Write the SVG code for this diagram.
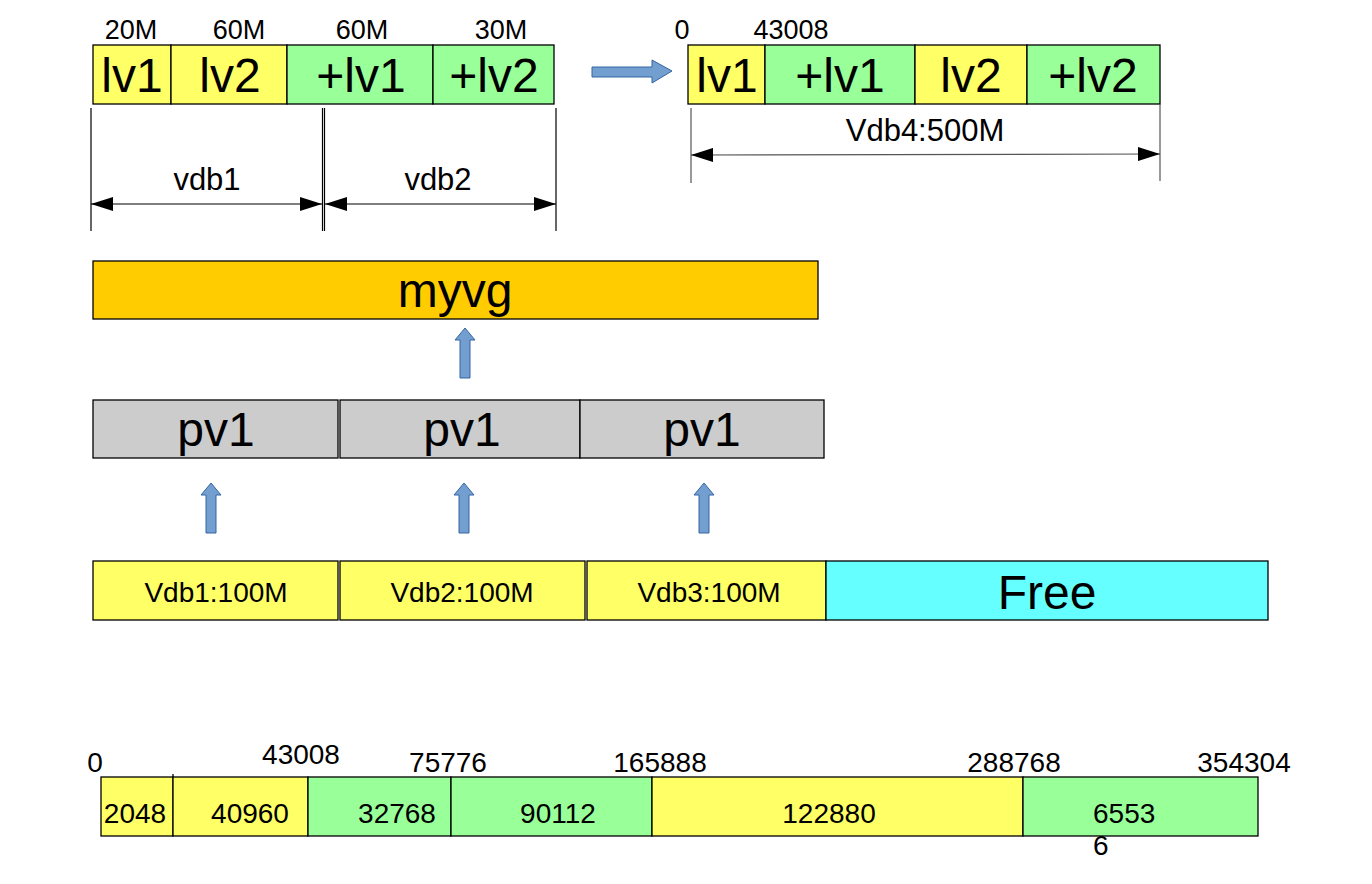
<svg xmlns="http://www.w3.org/2000/svg" width="1372" height="884" viewBox="0 0 1372 884">
<style>
text{font-family:"Liberation Sans",Arial,sans-serif;fill:#000}
.b{stroke:#000;stroke-width:1.3}
.y{fill:#ffff66}.g{fill:#99ff99}.o{fill:#ffcc00}.gr{fill:#cccccc}.c{fill:#66ffff}
.big{font-size:48px;text-anchor:middle}
.mid{font-size:28px;text-anchor:middle}
.lab{font-size:31px;text-anchor:middle}
.sm{font-size:27px;text-anchor:middle}
.dim{stroke:#000;stroke-width:1.2;fill:none}
.dimg{stroke:#555;stroke-width:1.2;fill:none}
.ba{fill:#729fcf;stroke:#3465a4;stroke-width:1}
</style>
<defs>
<marker id="ah" viewBox="0 0 22 14" refX="22" refY="7" markerWidth="22" markerHeight="14" markerUnits="userSpaceOnUse" orient="auto-start-reverse">
<path d="M0,0 L22,7 L0,14 z" fill="#000"/>
</marker>
</defs>

<g id="top-left-bar">
<text class="sm" x="131" y="39">20M</text>
<text class="sm" x="239" y="39">60M</text>
<text class="sm" x="362" y="39">60M</text>
<text class="sm" x="501" y="39">30M</text>
<rect class="b y" x="93" y="45" width="78" height="59"/>
<rect class="b y" x="171" y="45" width="116" height="59"/>
<rect class="b g" x="287" y="45" width="146" height="59"/>
<rect class="b g" x="433" y="45" width="121" height="59"/>
<text class="big" x="132" y="92">lv1</text>
<text class="big" x="230" y="92">lv2</text>
<text class="big" x="361" y="92">+lv1</text>
<text class="big" x="494" y="92">+lv2</text>
</g>

<g id="vdb-dims">
<line class="dim" x1="91" y1="108" x2="91" y2="231"/>
<line class="dim" x1="322.5" y1="108" x2="322.5" y2="231"/>
<line class="dim" x1="324.5" y1="108" x2="324.5" y2="231"/>
<line class="dim" x1="556" y1="108" x2="556" y2="231"/>
<text class="lab" x="207" y="190">vdb1</text>
<text class="lab" x="438" y="190">vdb2</text>
</g>

<g id="top-right-bar">
<text class="sm" x="682" y="39">0</text>
<text class="sm" x="791" y="39">43008</text>
<rect class="b y" x="688" y="45" width="77" height="59"/>
<rect class="b g" x="765" y="45" width="150" height="59"/>
<rect class="b y" x="915" y="45" width="112" height="59"/>
<rect class="b g" x="1027" y="45" width="133" height="59"/>
<text class="big" x="727" y="92">lv1</text>
<text class="big" x="840" y="92">+lv1</text>
<text class="big" x="971" y="92">lv2</text>
<text class="big" x="1093" y="92">+lv2</text>
</g>

<g id="vdb4-dims">
<line class="dimg" x1="691" y1="108" x2="691" y2="183"/>
<line class="dimg" x1="1160" y1="104" x2="1160" y2="181"/>
<text class="lab" x="925" y="141">Vdb4:500M</text>
</g>

<g id="myvg">
<rect class="b o" x="93" y="261" width="725" height="58"/>
<text class="big" x="455" y="307">myvg</text>
</g>

<g id="pv1-a">
<rect class="b gr" x="93" y="400" width="245" height="58"/>
<text class="big" x="216" y="446">pv1</text>
</g>
<g id="pv1-b">
<rect class="b gr" x="340" y="400" width="240" height="58"/>
<text class="big" x="462" y="446">pv1</text>
</g>
<g id="pv1-c">
<rect class="b gr" x="580" y="400" width="244" height="58"/>
<text class="big" x="702" y="446">pv1</text>
</g>

<g id="vdb1">
<rect class="b y" x="93" y="561" width="245" height="59"/>
<text class="mid" x="216" y="602">Vdb1:100M</text>
</g>
<g id="vdb2">
<rect class="b y" x="340" y="561" width="245" height="59"/>
<text class="mid" x="462" y="602">Vdb2:100M</text>
</g>
<g id="vdb3">
<rect class="b y" x="587" y="561" width="239" height="59"/>
<text class="mid" x="709" y="602">Vdb3:100M</text>
</g>
<g id="free">
<rect class="b c" x="826" y="561" width="442" height="59"/>
<text class="big" x="1047" y="609">Free</text>
</g>

<g id="extent-bar">
<text class="mid" x="95" y="772">0</text>
<text class="mid" x="301" y="764">43008</text>
<text class="mid" x="448" y="772">75776</text>
<text class="mid" x="660" y="772">165888</text>
<text class="mid" x="1014" y="772">288768</text>
<text class="mid" x="1244" y="772">354304</text>
<rect class="b y" x="101" y="777" width="72" height="59"/>
<rect class="b y" x="173" y="777" width="135" height="59"/>
<rect class="b g" x="308" y="777" width="143" height="59"/>
<rect class="b g" x="451" y="777" width="201" height="59"/>
<rect class="b y" x="652" y="777" width="371" height="59"/>
<rect class="b g" x="1023" y="777" width="235" height="59"/>
<line class="b" x1="173" y1="774" x2="173" y2="777"/>
<text class="mid" x="135" y="823">2048</text>
<text class="mid" x="250" y="823">40960</text>
<text class="mid" x="397" y="823">32768</text>
<text class="mid" x="558" y="823">90112</text>
<text class="mid" x="829" y="823">122880</text>
<text style="font-size:28px" x="1093" y="823">6553</text>
<text style="font-size:28px" x="1093" y="855">6</text>
</g>

<g id="connectors">
<line class="dim" x1="91" y1="204" x2="322" y2="204" marker-start="url(#ah)" marker-end="url(#ah)"/>
<line class="dim" x1="325" y1="204" x2="556" y2="204" marker-start="url(#ah)" marker-end="url(#ah)"/>
<line class="dimg" x1="691" y1="155" x2="1160" y2="154" marker-start="url(#ah)" marker-end="url(#ah)"/>
<path class="ba" d="M592,67 L652,67 L652,60 L672,71 L652,83 L652,77 L592,77 z"/>
<path class="ba" d="M460,378 L460,340 L455,340 L465,328 L475,340 L470,340 L470,378 z"/>
<path class="ba" d="M206,533 L206,495 L201,495 L211,483 L221,495 L216,495 L216,533 z"/>
<path class="ba" d="M459,533 L459,495 L454,495 L464,483 L474,495 L469,495 L469,533 z"/>
<path class="ba" d="M699,533 L699,495 L694,495 L704,483 L714,495 L709,495 L709,533 z"/>
</g>
</svg>
